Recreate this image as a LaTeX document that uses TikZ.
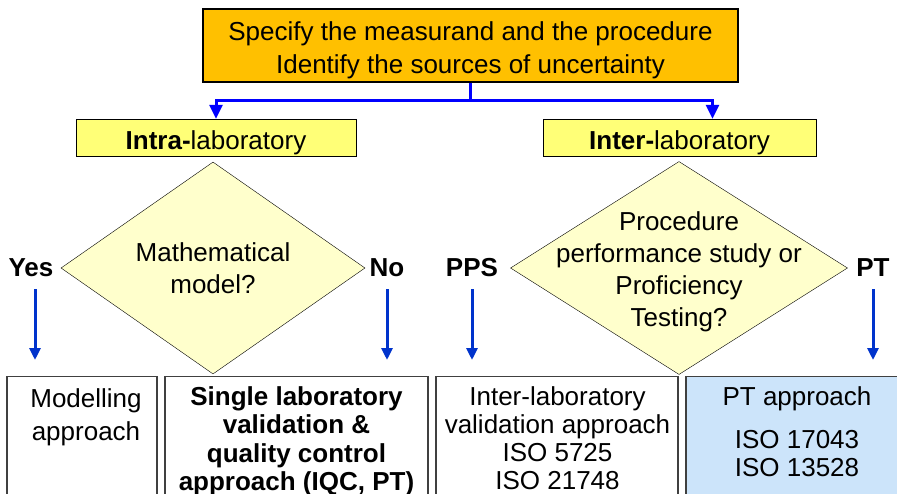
\documentclass[tikz,border=0pt]{standalone}
\usepackage{fontspec}
\setmainfont{Liberation Sans}
\usetikzlibrary{arrows.meta,shapes.geometric}
\definecolor{specfill}{RGB}{255,192,0}
\definecolor{labfill}{RGB}{255,255,119}
\definecolor{askfill}{RGB}{255,255,204}
\definecolor{ptfill}{RGB}{204,228,250}
\definecolor{flowblue}{RGB}{0,51,204}
\newcommand\BigText{\fontsize{26}{32}\selectfont}
\tikzset{
    txt/.style={font=\BigText, align=center, inner sep=0pt},
    labbox/.style={draw, fill=labfill, minimum width=#1, minimum height=37pt, inner sep=0pt,
                   text height=23.6pt, text depth=0pt, font=\BigText},
    askbox/.style={draw, diamond, fill=askfill, inner sep=0pt},
    outbox/.style={draw=black!75, line width=1.2pt, minimum width=#1, minimum height=130pt, inner sep=0pt, anchor=north},
    answer/.style={font=\BigText\bfseries, inner sep=0pt},
    split/.style={blue, line width=3pt, -{Triangle[length=14pt,width=13pt]}},
    flow/.style={flowblue, line width=3pt, -{Triangle[length=12pt,width=11pt]}},
}

\begin{document}
\begin{tikzpicture}[x=1pt,y=-1pt]
    \useasboundingbox (0,0) rectangle (897,493);
    \clip (0,0) rectangle (897,493);
    % top box
    \node[draw, line width=1.2pt, fill=specfill, minimum width=535pt, minimum height=73pt,
          txt, font=\fontsize{26}{33}\selectfont] (spec) at (470.5,45.5)
          {\rule{0pt}{28pt}Specify the measurand and the procedure\\Identify the sources of uncertainty};
    \node[labbox=280pt] (intra) at (216,137.5) {\textbf{Intra-}laboratory};
    \node[labbox=273pt] (inter) at (679.5,137.5) {\textbf{Inter-}laboratory};
    \draw[split] (spec.south) -- ++(0,18) -| (intra.north);
    \draw[split] (spec.south) -- ++(0,18) -| ([xshift=33pt]inter.north);
    % questions
    \node[askbox, minimum width=304pt, minimum height=212pt] (mathq) at (213,268) {};
    \node[txt] (mathqtext) at (mathq.center) {Mathematical\\model?};
    \node[askbox, minimum width=337pt, minimum height=213pt] (ppsq) at (679,268) {};
    \node[txt, yshift=-4pt] (ppsqtext) at (ppsq.center) {Procedure\\performance study or\\Proficiency\\Testing?};
    \node[answer] (yes) at (31,268) {Yes};
    \node[answer] (no) at (387,268) {No};
    \node[answer] (pps) at (472,268) {PPS};
    \node[answer] (pt) at (873,268) {PT};
    % outcomes
    \node[outbox=150pt] (modbox) at (82,376) {};
    \node[outbox=263pt] (slvbox) at (296.5,376) {};
    \node[outbox=242pt] (ilvbox) at (557,376) {};
    \node[outbox=222pt, fill=ptfill] (ptbox) at (797,376) {};
    \node[txt, font=\fontsize{26}{33}\selectfont, anchor=north] (modtext) at (86,388) {Modelling\\approach};
    \node[txt, font=\fontsize{26}{28.5}\selectfont\bfseries, anchor=north] (slvtext) at (296.5,386)
          {Single laboratory\\validation \&\\quality control\\approach (IQC, PT)};
    \node[txt, font=\fontsize{26}{28}\selectfont, anchor=north] (ilvtext) at (557.5,386)
          {Inter-laboratory\\validation approach\\ISO 5725\\ISO 21748};
    \node[txt, anchor=north] (pttext) at (797,386) {PT approach};
    \node[txt, font=\fontsize{26}{28}\selectfont, anchor=north] (isotext) at (797,430) {ISO 17043\\ISO 13528};
    \draw[flow] ([xshift=4pt,yshift=-21pt]yes.center) -- ([xshift=4pt,yshift=16pt]yes.center |- modbox.north);
    \draw[flow] ([yshift=-21pt]no.center) -- ([yshift=16pt]no.center |- slvbox.north);
    \draw[flow] ([yshift=-21pt]pps.center) -- ([yshift=16pt]pps.center |- ilvbox.north);
    \draw[flow] ([yshift=-21pt]pt.center) -- ([yshift=16pt]pt.center |- ptbox.north);
\end{tikzpicture}
\end{document}
